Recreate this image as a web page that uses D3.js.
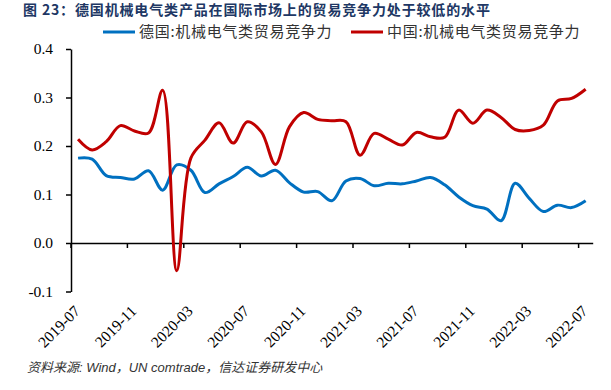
<!DOCTYPE html>
<html>
<head>
<meta charset="utf-8">
<script src="https://cdn.jsdelivr.net/npm/d3@7"></script>
<style>
  body { margin: 0; background: #fff; }
  svg { display: block; }
</style>
</head>
<body>
<svg id="chart" width="611" height="390"></svg>
<script>
const months = [
  '2019-07', '2019-08', '2019-09', '2019-10', '2019-11', '2019-12',
  '2020-01', '2020-02', '2020-03', '2020-04', '2020-05', '2020-06',
  '2020-07', '2020-08', '2020-09', '2020-10', '2020-11', '2020-12',
  '2021-01', '2021-02', '2021-03', '2021-04', '2021-05', '2021-06',
  '2021-07', '2021-08', '2021-09', '2021-10', '2021-11', '2021-12',
  '2022-01', '2022-02', '2022-03', '2022-04', '2022-05', '2022-06',
  '2022-07'
]
const tickMonths = ['2019-07', '2019-11', '2020-03', '2020-07', '2020-11', '2021-03',
  '2021-07', '2021-11', '2022-03', '2022-07']
const yTicks = [-0.1, 0, 0.1, 0.2, 0.3, 0.4]

const germany = [
  0.175, 0.173, 0.139, 0.135, 0.132, 0.149, 0.109, 0.161, 0.150, 0.104,
  0.122, 0.137, 0.156, 0.138, 0.150, 0.124, 0.105, 0.106, 0.087, 0.128,
  0.133, 0.118, 0.123, 0.122, 0.128, 0.135, 0.120, 0.095, 0.077, 0.070,
  0.046, 0.123, 0.092, 0.065, 0.078, 0.073, 0.087
]
const china = [
  0.214, 0.192, 0.209, 0.242, 0.231, 0.227, 0.315, -0.057, 0.175, 0.212,
  0.248, 0.206, 0.250, 0.229, 0.162, 0.240, 0.269, 0.255, 0.252, 0.250,
  0.181, 0.226, 0.214, 0.202, 0.228, 0.219, 0.218, 0.274, 0.247, 0.274,
  0.259, 0.234, 0.232, 0.243, 0.293, 0.298, 0.317
]

const series = [
  { name: '德国:机械电气类贸易竞争力', values: germany, color: '#0070C0', lx: 103 },
  { name: '中国:机械电气类贸易竞争力', values: china, color: '#C00000', lx: 351 }
]

const svg = d3.select('#chart')

const x = d3.scaleBand()
  .domain(months)
  .range([71, 592.7])

const y = d3.scaleLinear()
  .domain([-0.1, 0.4])
  .range([291.5, 49])

// title
svg.append('text')
  .attr('x', 23)
  .attr('y', 15)
  .attr('style', 'font-family: "Noto Sans CJK SC"; font-size: 14px; font-weight: bold; letter-spacing: 0.85px; fill: #203764;')
  .text('图 23：德国机械电气类产品在国际市场上的贸易竞争力处于较低的水平')

// legend
const legend = svg.append('g')
  .selectAll('g')
  .data(series)
  .join('g')
  .attr('transform', d => `translate(${d.lx},32)`)

legend.append('line')
  .attr('x1', 0)
  .attr('x2', 32)
  .attr('stroke', d => d.color)
  .attr('stroke-width', 3)

legend.append('text')
  .attr('x', 36)
  .attr('dy', '0.36em')
  .attr('style', 'font-family: "Noto Sans CJK SC"; font-size: 15px; letter-spacing: 0.7px; fill: #333;')
  .text(d => d.name)

// y axis
const yAxis = svg.append('g')
  .attr('transform', 'translate(71,0)')
  .call(d3.axisLeft(y)
    .tickValues(yTicks)
    .tickSize(5)
    .tickSizeOuter(0)
    .tickPadding(13)
    .tickFormat(d => d.toFixed(1)))

yAxis.selectAll('path, line').attr('stroke', '#000').attr('stroke-width', 1.5)
yAxis.selectAll('text')
  .attr('style', 'font-family: "Liberation Serif"; font-size: 15.5px; fill: #000;')

// x axis at zero
const xAxis = svg.append('g')
  .attr('transform', `translate(0,${y(0)})`)
  .call(d3.axisBottom(x)
    .tickValues(tickMonths)
    .tickSize(5)
    .tickSizeOuter(0))

xAxis.selectAll('.tick').attr('transform', d => `translate(${x(d)},0)`)
xAxis.selectAll('path, line').attr('stroke', '#000').attr('stroke-width', 1.5)
xAxis.selectAll('text')
  .attr('x', 0)
  .attr('y', 0)
  .attr('dy', 0)
  .attr('text-anchor', 'end')
  .attr('transform', `translate(10,${312 - y(0)})rotate(-45)`)
  .attr('style', 'font-family: "Liberation Serif"; font-size: 15.5px; fill: #000;')

// lines
const line = d3.line()
  .x((d, i) => x(months[i]) + x.bandwidth() / 2)
  .y(d => y(d))
  .curve(d3.curveCatmullRom.alpha(0.5))

svg.append('g')
  .selectAll('path')
  .data(series)
  .join('path')
  .attr('d', d => line(d.values))
  .attr('style', d => `fill: none; stroke: ${d.color}; stroke-width: 3px; stroke-linejoin: round;`)

// source
svg.append('text')
  .attr('x', 27)
  .attr('y', 372)
  .attr('style', 'font-family: "Liberation Sans", "Noto Sans CJK SC"; font-size: 13px; font-style: italic; fill: #333;')
  .text('资料来源: Wind，UN comtrade，信达证券研发中心')
</script>
</body>
</html>
